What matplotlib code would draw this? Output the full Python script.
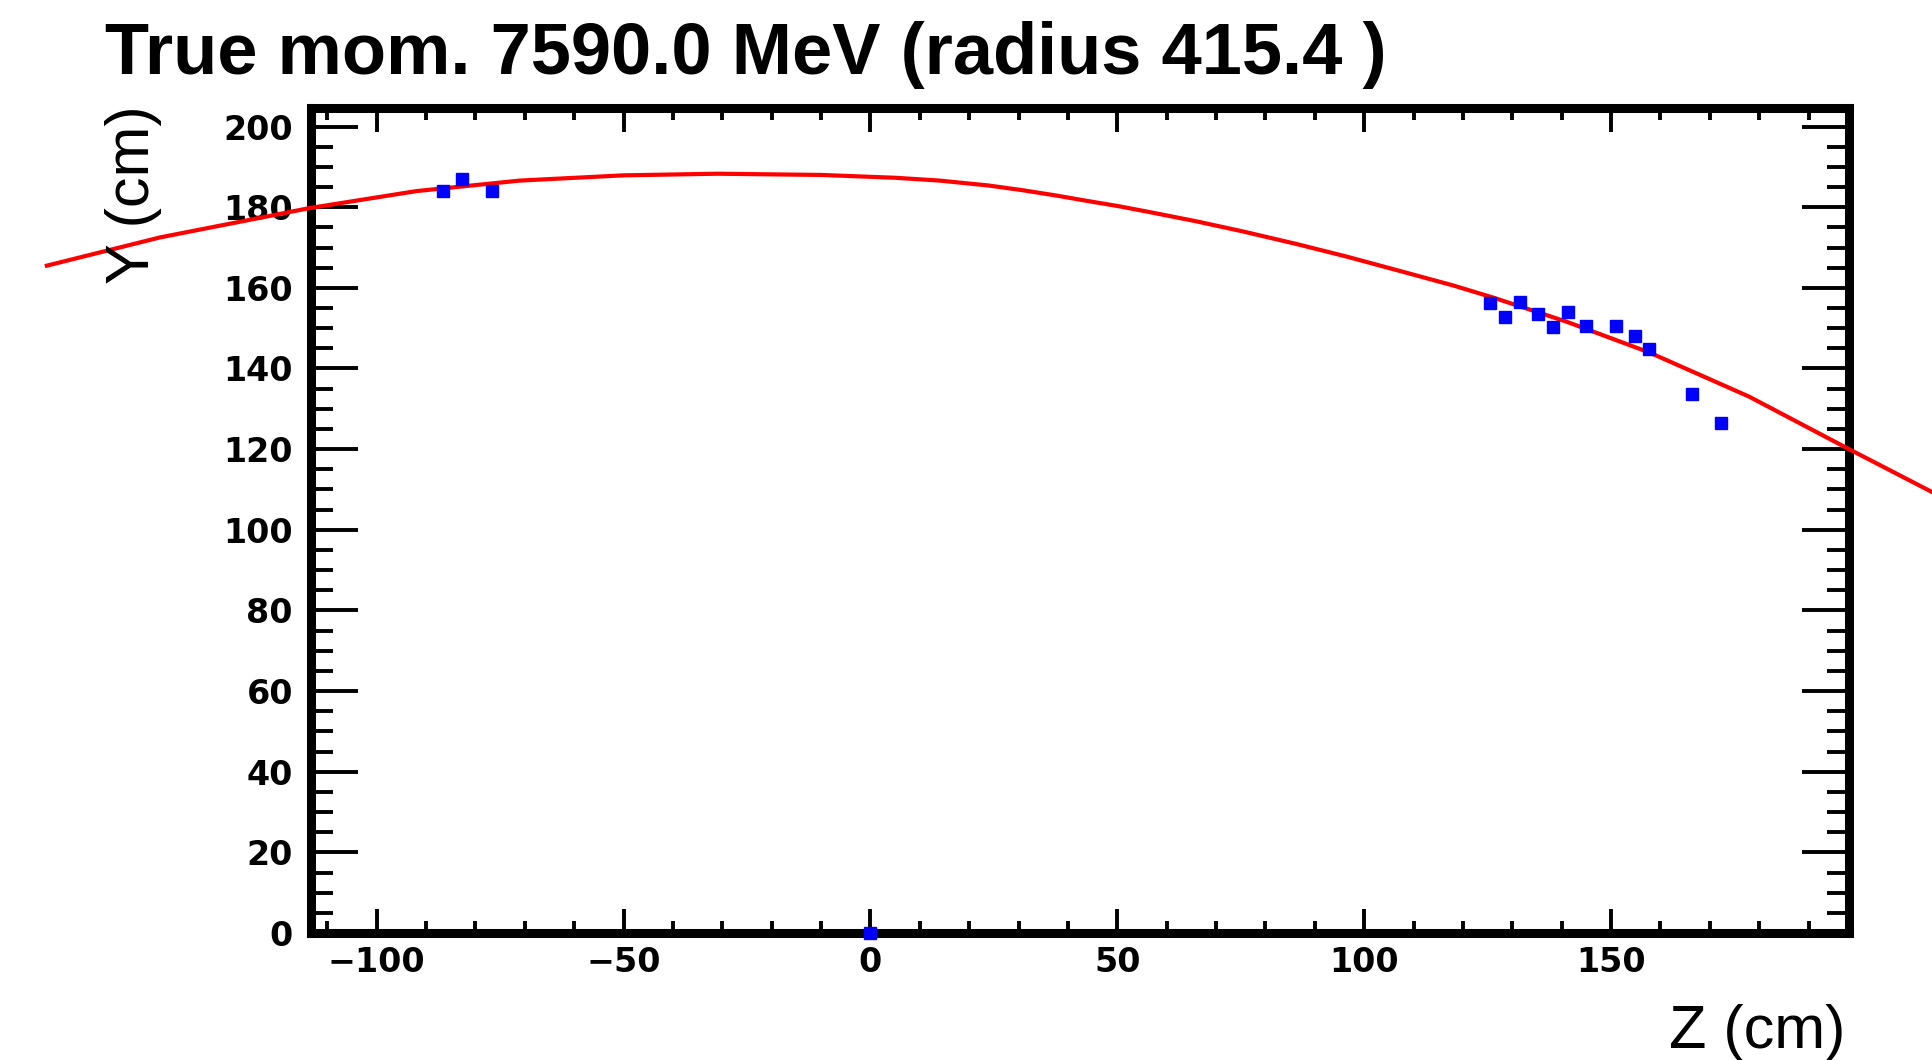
#!/usr/bin/env python3
"""Track fit: hits in the Z-Y plane with the fitted circle overlaid."""

import matplotlib
matplotlib.use('Agg')
import matplotlib.pyplot as plt
from matplotlib.ticker import MultipleLocator

# Hits (cm)
hit_z = [-86.6, -82.7, -76.7, 0.0,
         125.5, 128.6, 131.5, 135.3, 138.3, 141.2,
         145.0, 151.0, 154.8, 157.7, 166.5, 172.3]
hit_y = [183.9, 187.0, 184.0, 0.0,
         156.2, 152.7, 156.4, 153.6, 150.4, 154.0,
         150.5, 150.5, 148.0, 144.8, 133.7, 126.5]

# Fitted track (cm)
fit_z = [-166.8, -143.9, -113.5, -91.9, -71.0, -50.0, -31.0, -10.0, 5.0,
         14.0, 23.8, 30.9, 37.6, 43.7, 50.5, 56.5, 66.0, 75.4, 86.2,
         96.3, 107.8, 118.0, 126.1, 141.0, 157.7, 178.0, 198.2, 214.8]
fit_y = [165.5, 172.5, 179.8, 184.0, 186.6, 187.9, 188.3, 188.0, 187.3,
         186.6, 185.4, 184.2, 182.9, 181.6, 180.2, 178.8, 176.5, 174.0, 170.9,
         167.8, 164.0, 160.6, 157.6, 151.6, 144.0, 133.0, 120.0, 109.5]

title = 'True mom. 7590.0 MeV (radius 415.4 )'
x_ticks = [-100, -50, 0, 50, 100, 150]
y_ticks = [0, 20, 40, 60, 80, 100, 120, 140, 160, 180, 200]

plt.rcParams['font.family'] = ['Liberation Sans', 'DejaVu Sans']

fig = plt.figure(figsize=(19.33, 10.60), dpi=100)
ax = fig.add_axes([311 / 1933, 127 / 1060, 1538 / 1933, 825 / 1060])

ax.plot(fit_z, fit_y, color='#ff0000', lw=3, clip_on=False, zorder=5)
ax.plot(hit_z, hit_y, ls='none', marker='s', ms=8, color='#0000ff',
        mec='#0000ff', clip_on=False, zorder=6)

ax.set_xlim(-113.3, 198.2)
ax.set_ylim(0, 204.6)
ax.set_xticks(x_ticks)
ax.set_yticks(y_ticks)
ax.xaxis.set_minor_locator(MultipleLocator(10))
ax.yaxis.set_minor_locator(MultipleLocator(5))

for s in ax.spines.values():
    s.set_linewidth(6.5)
ax.tick_params(axis='both', which='both', direction='in', top=True, right=True,
               width=2.8, labelsize=24)
ax.tick_params(axis='x', which='major', length=17, pad=9)
ax.tick_params(axis='x', which='minor', length=8.5)
ax.tick_params(axis='y', which='major', length=34, pad=13)
ax.tick_params(axis='y', which='minor', length=16)
for lab in ax.get_xticklabels() + ax.get_yticklabels():
    lab.set_family('DejaVu Sans')
    lab.set_fontweight('bold')

fig.text(105 / 1933, 1 - 74 / 1060, title, fontsize=52, fontweight='bold',
         ha='left', va='baseline')
fig.text(1845 / 1933, 12 / 1060, 'Z (cm)', fontsize=44, ha='right',
         va='baseline')
fig.text(105 / 1933, 1 - 105 / 1060, 'Y (cm)', fontsize=44, rotation=90,
         ha='left', va='top')

fig.savefig('out.png', dpi=100)
